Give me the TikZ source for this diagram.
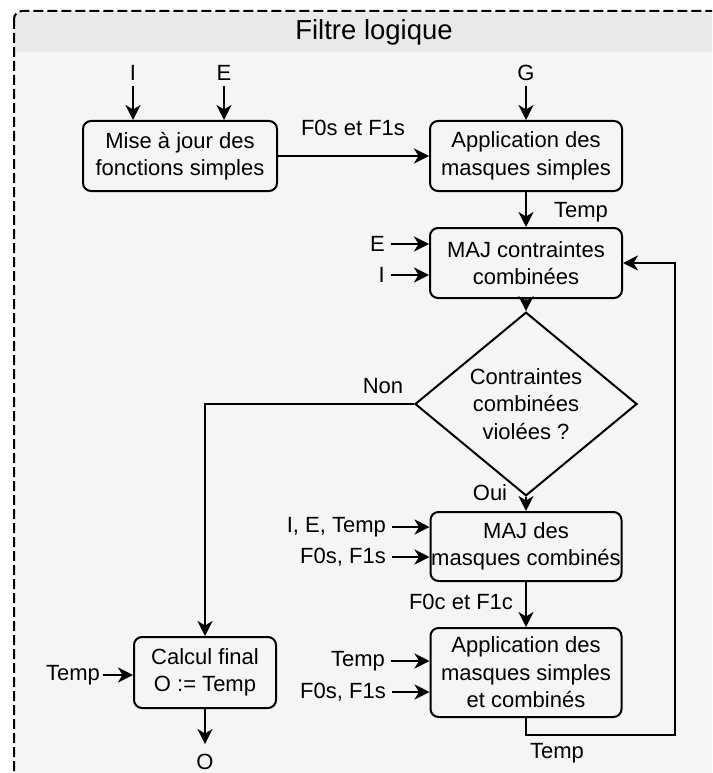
\documentclass[tikz,border=0pt]{standalone}
\usepackage{fontspec}
\setmainfont{Liberation Sans}
\usetikzlibrary{arrows.meta,shapes.geometric}
\definecolor{bodybg}{HTML}{F5F5F5}
\definecolor{headbg}{HTML}{E9E9E9}
\begin{document}
\begin{tikzpicture}[x=1pt,y=-1pt,
  every node/.style={font=\fontsize{22}{27.5}\selectfont, text=black},
  box/.style={draw, line width=2pt, rounded corners=8pt, fill=bodybg, align=center, inner sep=0pt},
  arr/.style={line width=2pt, -{Stealth[length=15pt,width=15pt,inset=4.5pt]}},
  lbl/.style={inner sep=0pt},
]
\useasboundingbox (0,0) rectangle (712,773);
\clip (0,0) rectangle (712,773);
\fill[white] (0,0) rectangle (712,773);
% frame
\fill[bodybg, rounded corners=8pt] (14,11) rectangle (740,800);
\begin{scope}
  \clip (0,0) rectangle (712,52);
  \fill[headbg, rounded corners=8pt] (14,11) rectangle (740,800);
\end{scope}
\draw[line width=2pt, rounded corners=8pt, dash pattern=on 10pt off 4pt] (14,11) rectangle (740,800);
\node[lbl, font=\fontsize{27.5}{30}\selectfont] (title) at (374,32) {Filtre logique};

% boxes
\node[box, minimum width=194pt, minimum height=70pt] (A) at (180,156) {Mise à jour des\\fonctions simples};
\node[box, minimum width=192pt, minimum height=70pt] (B) at (526,156) {Application des\\masques simples};
\node[box, minimum width=192pt, minimum height=70pt] (C) at (526,263) {MAJ contraintes\\combinées};
\node[draw, line width=2pt, shape=diamond, fill=bodybg, align=center, inner sep=0pt,
      minimum width=222pt, minimum height=138pt] (K) at (526,404) {Contraintes\\combinées\\violées ?};
\node[box, minimum width=191pt, minimum height=69pt] (D) at (526,546.5) {MAJ des\\masques combinés};
\node[box, minimum width=191pt, minimum height=89pt] (E) at (526,672.5) {Application des\\masques simples\\et combinés};
\node[box, minimum width=142pt, minimum height=71pt] (F) at (205,672.5) {Calcul final\\O := Temp};

% top inputs
\node[lbl] (lI) at (133,73) {I};
\node[lbl] (lE) at (224,73) {E};
\node[lbl] (lG) at (526,73) {G};
\draw[arr, shorten <=5pt] (lI) -- (lI |- A.north);
\draw[arr, shorten <=5pt] (lE) -- (lE |- A.north);
\draw[arr, shorten <=5pt] (lG) -- (B.north);

% A -> B
\draw[arr] (A.east) -- (B.west);
\node[lbl] (lF0s) at (353,128) {F0s et F1s};

% B -> C
\draw[arr] (B.south) -- (C.north);
\node[lbl] (lT1) at (581,212) {Temp};

% inputs to C
\node[lbl, anchor=east] (cE) at (385,244) {E};
\node[lbl, anchor=east] (cI) at (385,275) {I};
\draw[arr, shorten <=6pt] (cE.east) -- (cE.east -| C.west);
\draw[arr, shorten <=6pt] (cI.east) -- (cI.east -| C.west);

% C -> K
\draw[arr] (C.south) -- (K.north);

% Non
\draw[arr] (K.west) -- (K.west -| F.north) -- (F.north);
\node[lbl] (lNon) at (383,386) {Non};

% Oui
\draw[arr] (K.south) -- (D.north);
\node[lbl] (lOui) at (490,493) {Oui};

% inputs to D
\node[lbl, anchor=east] (dA) at (386,527) {I, E, Temp};
\node[lbl, anchor=east] (dB) at (386,557) {F0s, F1s};
\draw[arr, shorten <=6pt] (dA.east) -- (dA.east -| D.west);
\draw[arr, shorten <=6pt] (dB.east) -- (dB.east -| D.west);

% D -> E
\draw[arr] (D.south) -- (E.north);
\node[lbl] (lF0c) at (461,602) {F0c et F1c};

% inputs to E
\node[lbl, anchor=east] (eA) at (385,661) {Temp};
\node[lbl, anchor=east] (eB) at (386,692) {F0s, F1s};
\draw[arr, shorten <=6pt] (eA.east) -- (eA.east -| E.west);
\draw[arr, shorten <=6pt] (eB.east) -- (eB.east -| E.west);

% feedback
\coordinate (fb) at (675,735);
\draw[arr] (E.south) |- (fb) |- (C.east);
\node[lbl] (lT2) at (557,753) {Temp};

% F input and output
\node[lbl, anchor=east] (fA) at (100,675) {Temp};
\draw[arr, shorten <=3pt] (fA.east) -- (fA.east -| F.west);
\node[lbl] (lO) at (205,762) {O};
\draw[arr, shorten >=10pt] (F.south) -- (lO.north);
\end{tikzpicture}
\end{document}
